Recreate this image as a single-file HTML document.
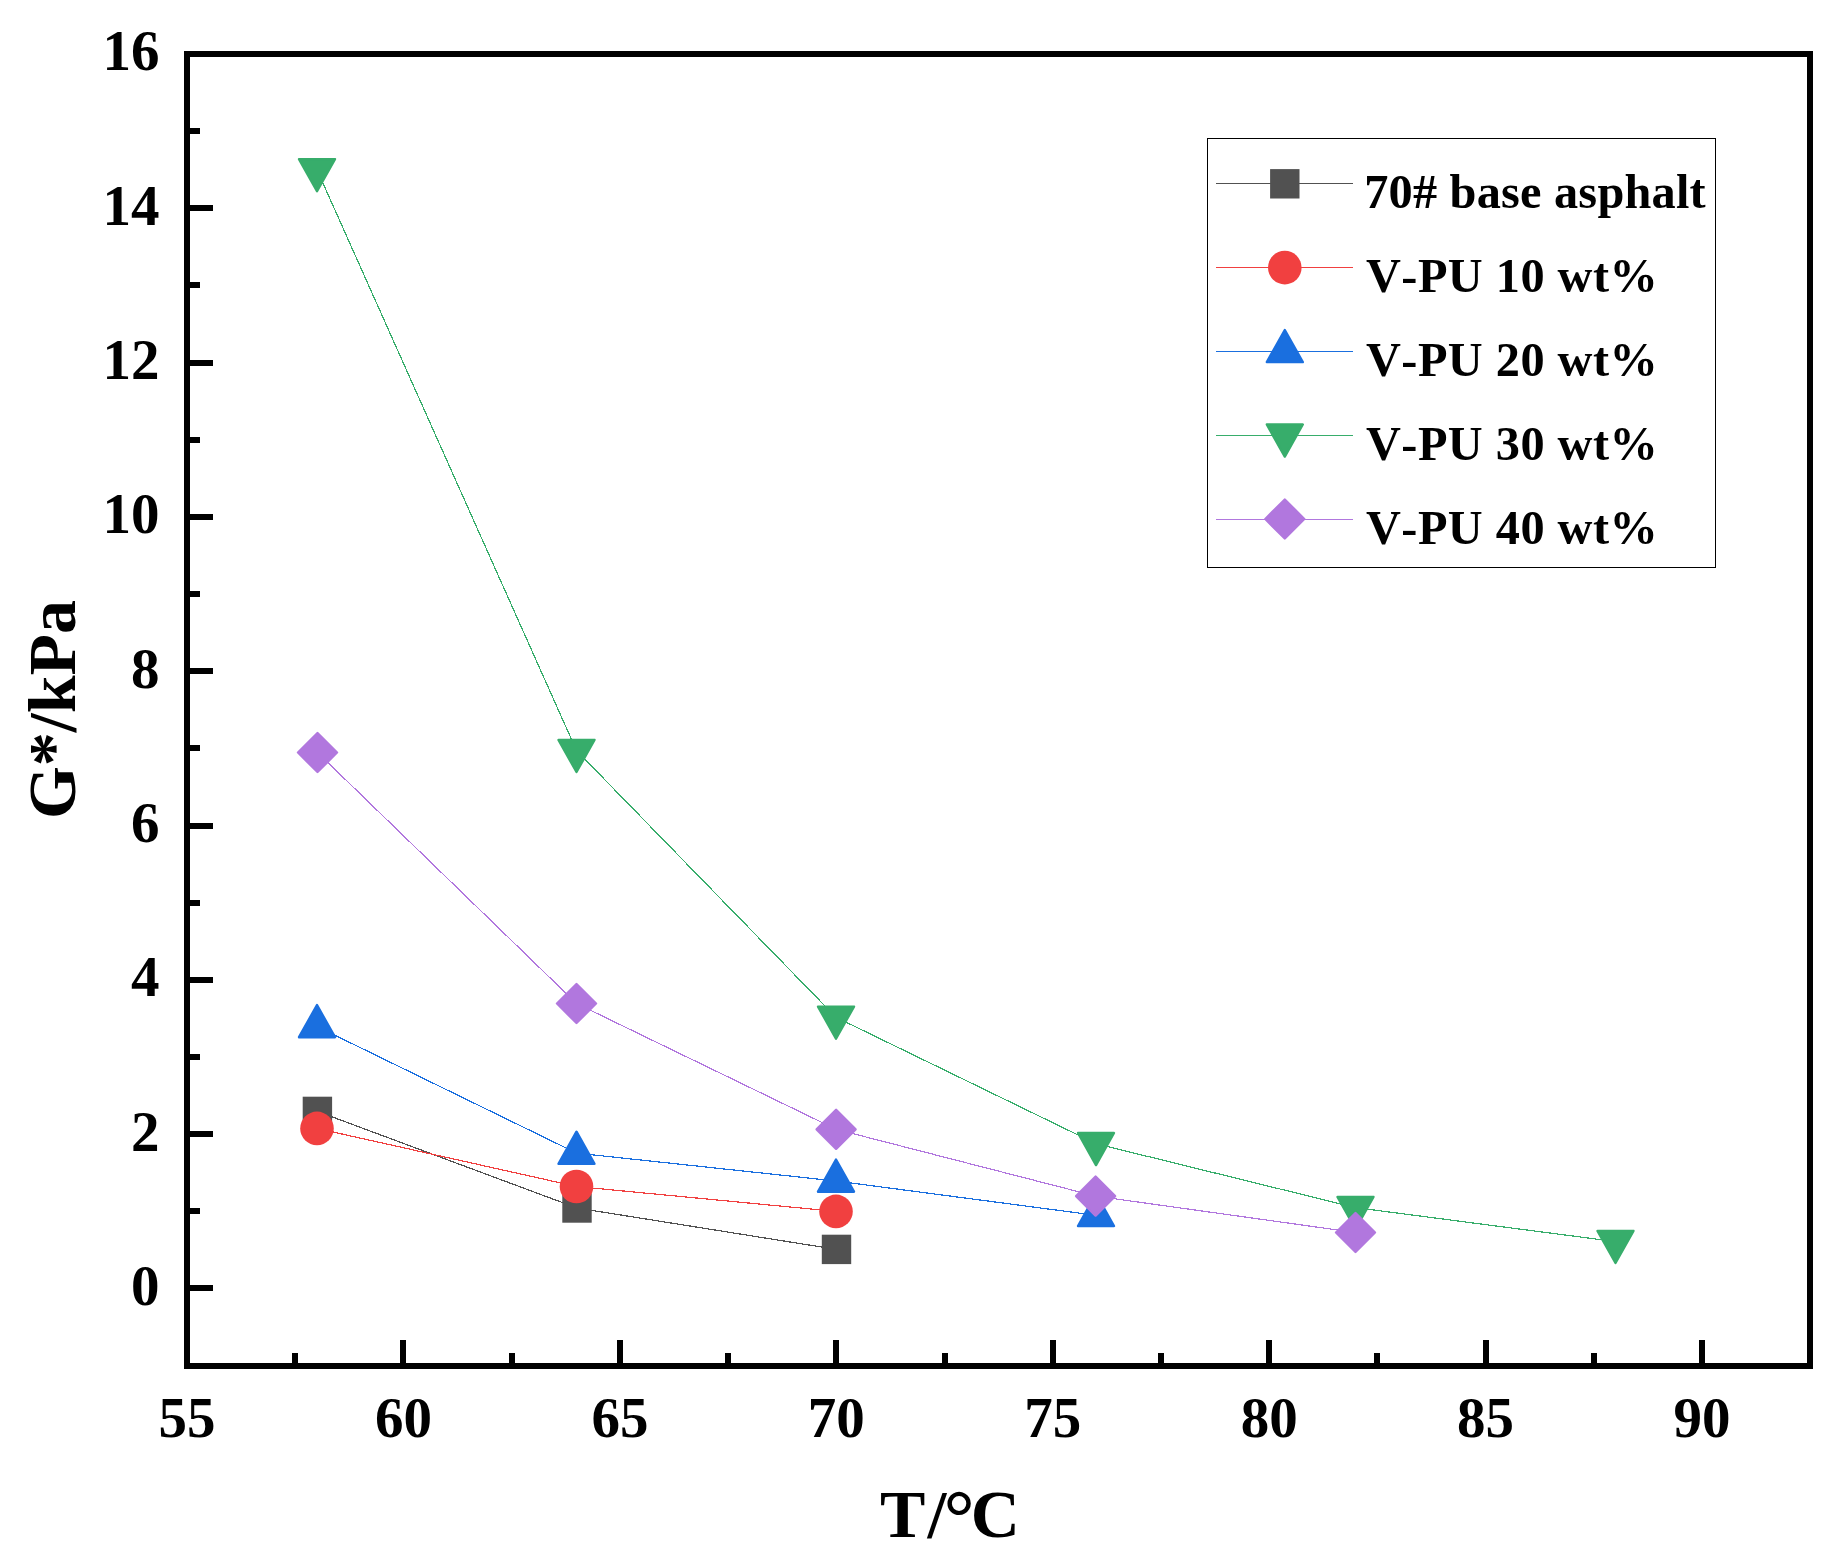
<!DOCTYPE html>
<html lang="en"><head><meta charset="utf-8"><title>G*/kPa vs T/°C</title>
<style>
html,body{margin:0;padding:0;background:#fff;}
body{width:1837px;height:1568px;overflow:hidden;}
svg{display:block;}
text{font-family:"Liberation Serif","Times New Roman",serif;font-weight:bold;fill:#000;font-kerning:none;font-variant-ligatures:none;}
.tk{font-size:57px;}
.ti{font-size:68px;}
.lg{font-size:48.3px;letter-spacing:0.47px;}
.lg1{letter-spacing:0.22px;}
</style></head><body>
<svg width="1837" height="1568" viewBox="0 0 1837 1568">
<rect x="0" y="0" width="1837" height="1568" fill="#fff"/>
<g>
<polyline points="317.4,1111.4 577.0,1208.0 836.5,1249.4" fill="none" stroke="#515151" stroke-width="1.2" shape-rendering="crispEdges"/>
<rect x="302.7" y="1096.7" width="29.4" height="29.4" fill="#515151"/>
<rect x="562.3" y="1193.3" width="29.4" height="29.4" fill="#515151"/>
<rect x="821.8" y="1234.7" width="29.4" height="29.4" fill="#515151"/>
</g>
<g>
<polyline points="317.0,1128.4 576.5,1186.5 836.0,1211.4" fill="none" stroke="#F14040" stroke-width="1.2" shape-rendering="crispEdges"/>
<circle cx="317.0" cy="1128.4" r="16.8" fill="#F14040"/>
<circle cx="576.5" cy="1186.5" r="16.8" fill="#F14040"/>
<circle cx="836.0" cy="1211.4" r="16.8" fill="#F14040"/>
</g>
<g>
<polyline points="317.0,1026.5 576.5,1153.1 836.0,1181.0 1096.0,1215.3" fill="none" stroke="#1A6FDF" stroke-width="1.2" shape-rendering="crispEdges"/>
<polygon points="317.0,1005.1 335.0,1037.2 299.0,1037.2" fill="#1A6FDF" stroke="#1A6FDF" stroke-width="2.4" stroke-linejoin="round"/>
<polygon points="576.5,1131.7 594.5,1163.8 558.5,1163.8" fill="#1A6FDF" stroke="#1A6FDF" stroke-width="2.4" stroke-linejoin="round"/>
<polygon points="836.0,1159.6 854.0,1191.7 818.0,1191.7" fill="#1A6FDF" stroke="#1A6FDF" stroke-width="2.4" stroke-linejoin="round"/>
<polygon points="1096.0,1193.9 1114.0,1226.0 1078.0,1226.0" fill="#1A6FDF" stroke="#1A6FDF" stroke-width="2.4" stroke-linejoin="round"/>
</g>
<g>
<polyline points="317.0,169.8 576.5,750.6 836.0,1017.3 1096.0,1143.7 1355.5,1207.6 1615.5,1241.6" fill="none" stroke="#37AD6B" stroke-width="1.2" shape-rendering="crispEdges"/>
<polygon points="317.0,191.2 335.0,159.1 299.0,159.1" fill="#37AD6B" stroke="#37AD6B" stroke-width="2.4" stroke-linejoin="round"/>
<polygon points="576.5,772.0 594.5,739.9 558.5,739.9" fill="#37AD6B" stroke="#37AD6B" stroke-width="2.4" stroke-linejoin="round"/>
<polygon points="836.0,1038.7 854.0,1006.6 818.0,1006.6" fill="#37AD6B" stroke="#37AD6B" stroke-width="2.4" stroke-linejoin="round"/>
<polygon points="1096.0,1165.1 1114.0,1133.0 1078.0,1133.0" fill="#37AD6B" stroke="#37AD6B" stroke-width="2.4" stroke-linejoin="round"/>
<polygon points="1355.5,1229.0 1373.5,1196.9 1337.5,1196.9" fill="#37AD6B" stroke="#37AD6B" stroke-width="2.4" stroke-linejoin="round"/>
<polygon points="1615.5,1263.0 1633.5,1230.9 1597.5,1230.9" fill="#37AD6B" stroke="#37AD6B" stroke-width="2.4" stroke-linejoin="round"/>
</g>
<g>
<polyline points="317.5,752.5 576.5,1003.5 836.1,1129.3 1095.6,1196.1 1355.5,1232.5" fill="none" stroke="#B177DE" stroke-width="1.2" shape-rendering="crispEdges"/>
<polygon points="317.5,733.0 337.0,752.5 317.5,772.0 298.0,752.5" fill="#B177DE" stroke="#B177DE" stroke-width="2.4" stroke-linejoin="round"/>
<polygon points="576.5,984.0 596.0,1003.5 576.5,1023.0 557.0,1003.5" fill="#B177DE" stroke="#B177DE" stroke-width="2.4" stroke-linejoin="round"/>
<polygon points="836.1,1109.8 855.6,1129.3 836.1,1148.8 816.6,1129.3" fill="#B177DE" stroke="#B177DE" stroke-width="2.4" stroke-linejoin="round"/>
<polygon points="1095.6,1176.6 1115.1,1196.1 1095.6,1215.6 1076.1,1196.1" fill="#B177DE" stroke="#B177DE" stroke-width="2.4" stroke-linejoin="round"/>
<polygon points="1355.5,1213.0 1375.0,1232.5 1355.5,1252.0 1336.0,1232.5" fill="#B177DE" stroke="#B177DE" stroke-width="2.4" stroke-linejoin="round"/>
</g>
<g fill="#000" shape-rendering="crispEdges">
<rect x="184" y="51" width="1629" height="6"/>
<rect x="184" y="1363" width="1629" height="6"/>
<rect x="184" y="51" width="6" height="1318"/>
<rect x="1807" y="51" width="6" height="1318"/>
<rect x="187" y="1285" width="26" height="6"/>
<rect x="187" y="1208" width="13" height="6"/>
<rect x="187" y="1131" width="26" height="6"/>
<rect x="187" y="1054" width="13" height="6"/>
<rect x="187" y="977" width="26" height="6"/>
<rect x="187" y="900" width="13" height="6"/>
<rect x="187" y="823" width="26" height="6"/>
<rect x="187" y="745" width="13" height="6"/>
<rect x="187" y="668" width="26" height="6"/>
<rect x="187" y="591" width="13" height="6"/>
<rect x="187" y="514" width="26" height="6"/>
<rect x="187" y="437" width="13" height="6"/>
<rect x="187" y="360" width="26" height="6"/>
<rect x="187" y="282" width="13" height="6"/>
<rect x="187" y="205" width="26" height="6"/>
<rect x="187" y="128" width="13" height="6"/>
<rect x="292" y="1353" width="6" height="13"/>
<rect x="400" y="1340" width="6" height="26"/>
<rect x="509" y="1353" width="6" height="13"/>
<rect x="617" y="1340" width="6" height="26"/>
<rect x="725" y="1353" width="6" height="13"/>
<rect x="833" y="1340" width="6" height="26"/>
<rect x="942" y="1353" width="6" height="13"/>
<rect x="1050" y="1340" width="6" height="26"/>
<rect x="1158" y="1353" width="6" height="13"/>
<rect x="1266" y="1340" width="6" height="26"/>
<rect x="1374" y="1353" width="6" height="13"/>
<rect x="1483" y="1340" width="6" height="26"/>
<rect x="1591" y="1353" width="6" height="13"/>
<rect x="1699" y="1340" width="6" height="26"/>
</g>
<text class="tk" x="159.5" y="1305.0" text-anchor="end">0</text>
<text class="tk" x="159.5" y="1150.7" text-anchor="end">2</text>
<text class="tk" x="159.5" y="996.4" text-anchor="end">4</text>
<text class="tk" x="159.5" y="842.0" text-anchor="end">6</text>
<text class="tk" x="159.5" y="687.7" text-anchor="end">8</text>
<text class="tk" x="159.5" y="533.4" text-anchor="end">10</text>
<text class="tk" x="159.5" y="379.1" text-anchor="end">12</text>
<text class="tk" x="159.5" y="224.8" text-anchor="end">14</text>
<text class="tk" x="159.5" y="70.4" text-anchor="end">16</text>
<text class="tk" x="187.0" y="1437" text-anchor="middle">55</text>
<text class="tk" x="403.4" y="1437" text-anchor="middle">60</text>
<text class="tk" x="619.9" y="1437" text-anchor="middle">65</text>
<text class="tk" x="836.3" y="1437" text-anchor="middle">70</text>
<text class="tk" x="1052.7" y="1437" text-anchor="middle">75</text>
<text class="tk" x="1269.2" y="1437" text-anchor="middle">80</text>
<text class="tk" x="1485.6" y="1437" text-anchor="middle">85</text>
<text class="tk" x="1702.0" y="1437" text-anchor="middle">90</text>
<text class="ti" y="1536.6"><tspan x="880">T</tspan><tspan x="927.6">/</tspan><tspan x="943.8" dy="6.1" font-size="77">°</tspan><tspan x="970.7" dy="-6.1">C</tspan></text>
<text class="ti" transform="translate(75.3,709.5) rotate(-90)" text-anchor="middle">G*/kPa</text>
<rect x="1207.5" y="138.5" width="508" height="429" fill="#fff" stroke="#000" stroke-width="1" shape-rendering="crispEdges"/>
<line x1="1216" y1="183.5" x2="1353" y2="183.5" stroke="#515151" stroke-width="1" shape-rendering="crispEdges"/>
<rect x="1270.1" y="169.1" width="29.4" height="29.4" fill="#515151"/>
<text class="lg lg1" x="1364.2" y="208.3">70# base asphalt</text>
<line x1="1216" y1="267.5" x2="1353" y2="267.5" stroke="#F14040" stroke-width="1" shape-rendering="crispEdges"/>
<circle cx="1284.8" cy="267.6" r="16.8" fill="#F14040"/>
<text class="lg" x="1366" y="292.1">V-PU 10 wt%</text>
<line x1="1216" y1="351.5" x2="1353" y2="351.5" stroke="#1A6FDF" stroke-width="1" shape-rendering="crispEdges"/>
<polygon points="1284.8,330.0 1302.8,362.1 1266.8,362.1" fill="#1A6FDF" stroke="#1A6FDF" stroke-width="2.4" stroke-linejoin="round"/>
<text class="lg" x="1366" y="375.9">V-PU 20 wt%</text>
<line x1="1216" y1="435.5" x2="1353" y2="435.5" stroke="#37AD6B" stroke-width="1" shape-rendering="crispEdges"/>
<polygon points="1284.8,456.6 1302.8,424.5 1266.8,424.5" fill="#37AD6B" stroke="#37AD6B" stroke-width="2.4" stroke-linejoin="round"/>
<text class="lg" x="1366" y="459.7">V-PU 30 wt%</text>
<line x1="1216" y1="519.5" x2="1353" y2="519.5" stroke="#B177DE" stroke-width="1" shape-rendering="crispEdges"/>
<polygon points="1284.8,499.5 1304.3,519.0 1284.8,538.5 1265.3,519.0" fill="#B177DE" stroke="#B177DE" stroke-width="2.4" stroke-linejoin="round"/>
<text class="lg" x="1366" y="543.5">V-PU 40 wt%</text>
</svg></body></html>
